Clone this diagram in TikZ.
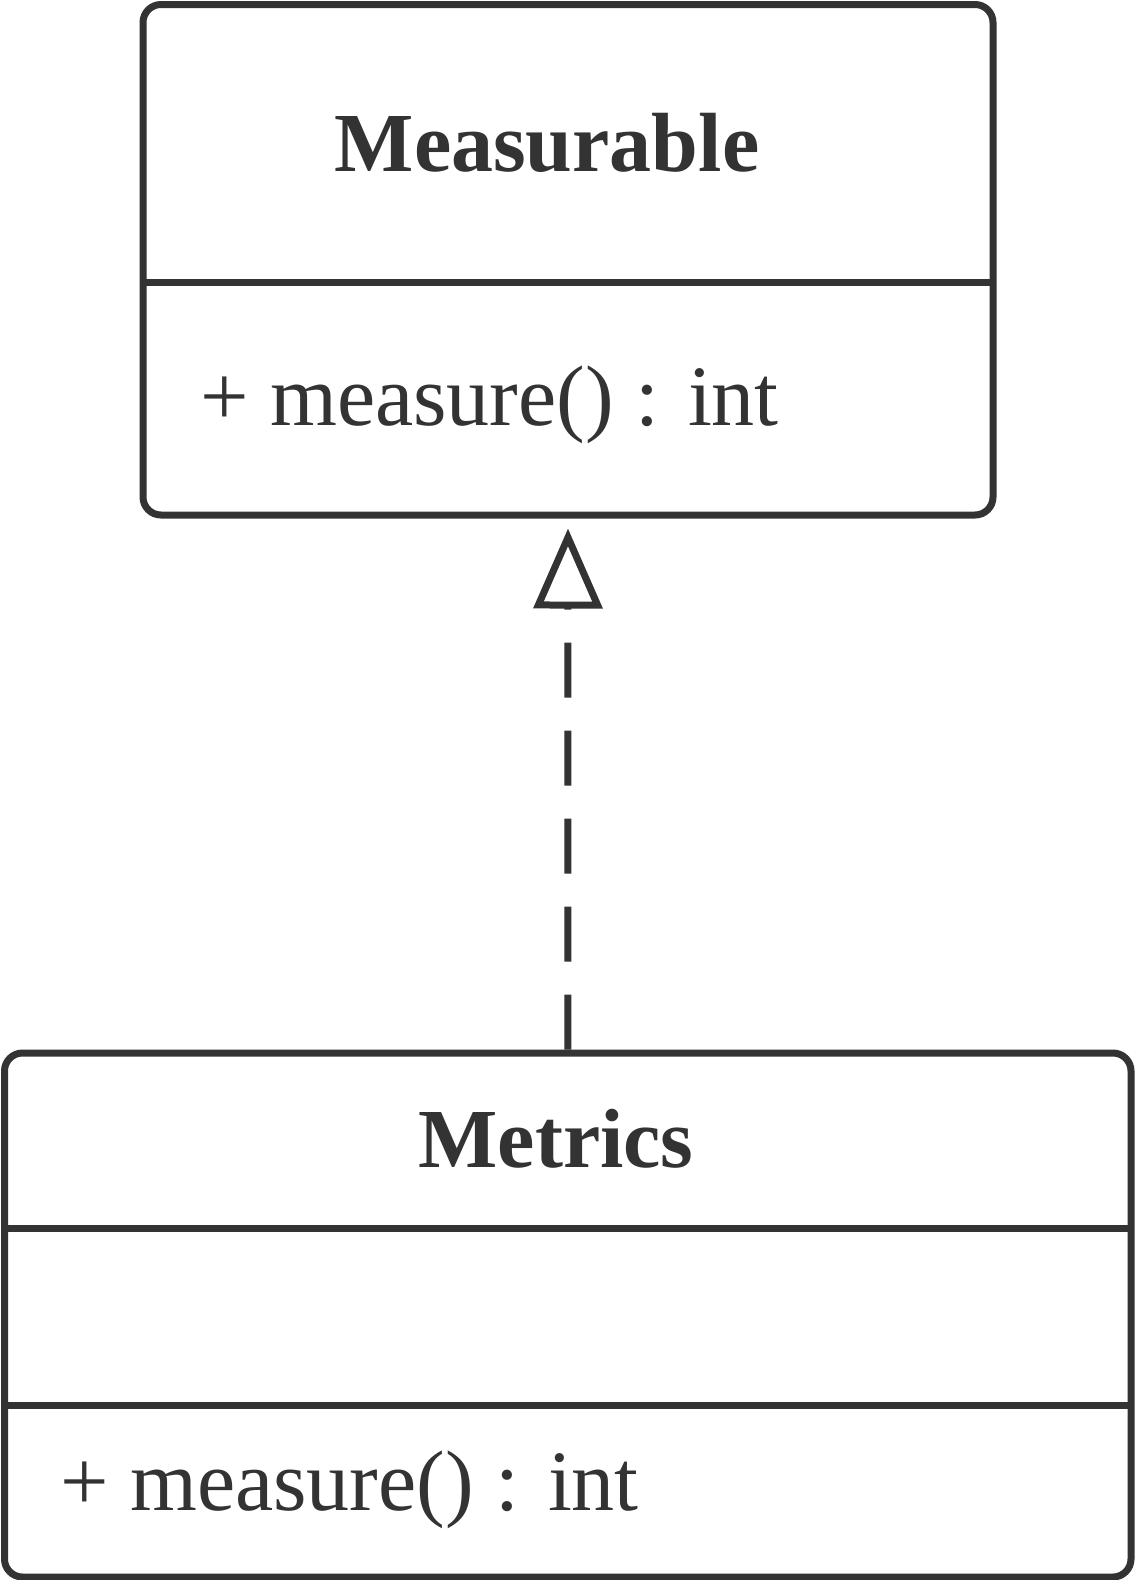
\documentclass[tikz,border=0pt]{standalone}
\usepackage{fontspec}
\setmainfont{Liberation Serif}
\usetikzlibrary{arrows.meta}
\definecolor{ink}{HTML}{333333}
\begin{document}
\begin{tikzpicture}[x=1pt,y=-1pt,
  classbox/.style={draw=ink, line width=7pt, rounded corners=18pt, rectangle, inner sep=0pt},
  titletext/.style={text=ink, font=\fontsize{84}{100}\selectfont\bfseries, inner sep=0pt, anchor=base},
  membertext/.style={text=ink, font=\fontsize{86}{100}\selectfont, inner sep=0pt, anchor=base west},
  divider/.style={draw=ink, line width=7pt},
  realize/.style={draw=ink, line width=7pt,
    dash pattern=on 55pt off 33pt,
    -{Triangle[open, length=80pt, width=68pt, line width=7pt]}}
]
\useasboundingbox (0,0) rectangle (1136,1580);
% boxes
\node[classbox, minimum width=850pt, minimum height=510.5pt] (a) at (568,259.75) {};
\node[classbox, minimum width=1126.5pt, minimum height=524pt] (b) at (567.75,1315) {};
% dividers
\coordinate (a1l) at (143,282); \coordinate (a1r) at (993,282);
\draw[divider] (a1l) -- (a1r);
\coordinate (b1l) at (4.5,1228); \coordinate (b1r) at (1131,1228);
\coordinate (b2l) at (4.5,1405); \coordinate (b2r) at (1131,1405);
\draw[divider] (b1l) -- (b1r);
\draw[divider] (b2l) -- (b2r);
% texts
\node[titletext] (at) at (547,171) {Measurable};
\node[membertext] (am) at (200,425) {+ measure() : int};
\node[titletext] (bt) at (556,1167) {Metrics};
\node[membertext] (bm) at (60,1510) {+ measure() : int};
% realization
\draw[realize, shorten >=10pt] (b.north) -- (a.south);
\end{tikzpicture}
\end{document}
